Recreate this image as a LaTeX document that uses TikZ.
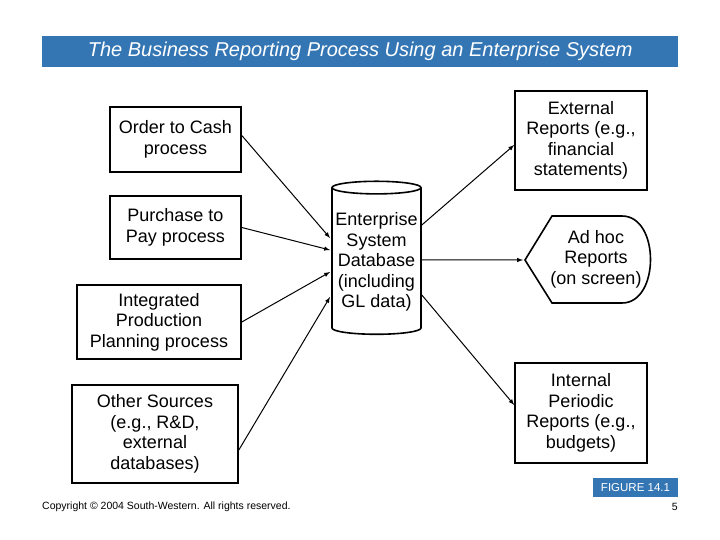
\documentclass[tikz,border=0pt]{standalone}
\usepackage{fontspec}
\setmainfont{Liberation Sans}
\usetikzlibrary{shapes.geometric}
\definecolor{barblue}{RGB}{52,118,180}
\tikzset{
  box/.style={draw, line width=1.6pt, align=center, inner sep=1pt, font=\fontsize{18}{20.5}\selectfont},
  flow/.style={-latex, line width=1pt},
}
\begin{document}
\begin{tikzpicture}[x=1pt,y=-1pt]
  \useasboundingbox (0,0) rectangle (720,540);
  \node[fill=barblue, minimum width=636pt, minimum height=31pt, anchor=north west, inner sep=0pt,
        text=white, font=\fontsize{20}{22}\itshape] (title) at (42,36) {The Business Reporting Process Using an Enterprise System};

  % sources
  \node[box, minimum width=131pt, minimum height=65pt] (cash) at (175.5,139.5) {Order to Cash\\process};
  \node[box, minimum width=131pt, minimum height=63pt] (pay) at (175.5,227.5) {Purchase to\\Pay process};
  \node[box, minimum width=164pt, minimum height=74pt] (prod) at (159,322) {Integrated\\Production\\Planning process};
  \node[box, minimum width=166pt, minimum height=98pt] (other) at (155,434) {Other Sources\\(e.g., R\&D,\\external\\databases)};

  % database
  \node[cylinder, shape border rotate=90, draw, line width=1.6pt, aspect=0.15, inner sep=1pt,
        minimum width=89pt, minimum height=153pt, align=center,
        font=\fontsize{18}{20.5}\selectfont] (db) at (376.5,262) {Enterprise\\System\\Database\\(including\\GL data)};

  % reports
  \node[box, minimum width=132pt, minimum height=99pt] (ext) at (581,140.5) {External\\Reports (e.g.,\\financial\\statements)};
  \node[box, minimum width=132pt, minimum height=100pt] (int) at (581,413) {Internal\\Periodic\\Reports (e.g.,\\budgets)};
  \draw[line width=1.6pt] (525,260) -- (552,216) -- (622,216)
    .. controls (660,216) and (660,303) .. (622,303) -- (552,303) -- cycle;
  \node[align=center, inner sep=1pt, font=\fontsize{18}{20.5}\selectfont] (adhoc) at (596,259) {Ad hoc\\Reports\\(on screen)};
  \coordinate (adhocin) at (523,260);

  \draw[flow] (cash.east) ++(0,-4) -- (330,238);
  \draw[flow] (pay.east) -- (330,250);
  \draw[flow] (prod.east) -- (330,272);
  \draw[flow] (other.east) ++(0,16) -- (330,297);
  \draw[flow] (db.east) ++(0,-37) -- (ext.west |- 0,145);
  \draw[flow] (db.east) ++(0,-2) -- (adhocin);
  \draw[flow] (db.east) ++(0,33) -- (int.west |- 0,405);

  % footer
  \node[fill=barblue, text=white, minimum width=85pt, minimum height=19pt, inner sep=0pt,
        font=\fontsize{11.5}{13}\selectfont] (fig) at (635.5,487.5) {FIGURE 14.1};
  \node[anchor=west, inner sep=0pt, font=\fontsize{10.5}{12}\selectfont] (copy) at (42,507) {Copyright © 2004 South-Western. All rights reserved.};
  \node[anchor=east, inner sep=0pt, font=\fontsize{10.5}{12}\selectfont] (page) at (678,507) {5};
\end{tikzpicture}
\end{document}
